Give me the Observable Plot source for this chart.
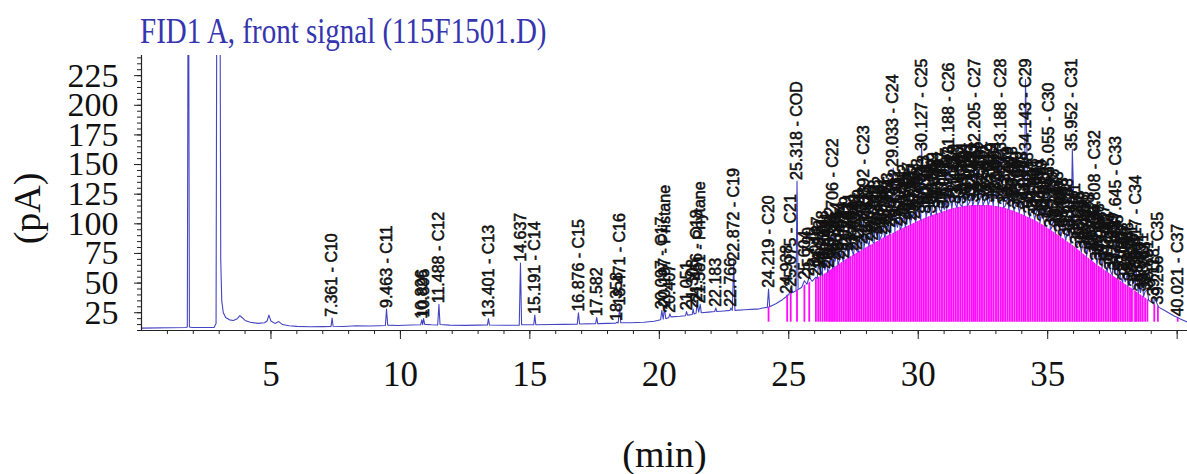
<!DOCTYPE html>
<html><head><meta charset="utf-8">
<script src="https://cdn.jsdelivr.net/npm/d3@7"></script>
<script src="https://cdn.jsdelivr.net/npm/@observablehq/plot@0.6"></script>
<style>
html,body{margin:0;padding:0;background:#fff;width:1187px;height:474px;overflow:hidden}
#title{height:50px;position:relative}
#title span{position:absolute;left:140px;top:9px;font:29px "Liberation Serif",serif;color:#3535b0;line-height:34px;white-space:nowrap;transform:scaleY(1.25);transform-origin:0 0}
#chart svg{display:block}
</style></head><body>
<div id="title"><span>FID1 A, front signal (115F1501.D)</span></div>
<div id="chart"></div>
<script>
// ---- data (minutes, pA) ----
const signalEarly = [
  [0,12],[1.70,12.5],[1.77,13],[1.81,420],[1.85,13],[1.95,12.5],[2.80,12.5],[2.88,16],[2.92,420],[3.02,420],
  [3.06,70],[3.10,35],[3.16,25],[3.25,21],[3.40,19],[3.55,18.5],[3.70,20],[3.80,22.5],[3.88,21],[4.00,18.5],
  [4.20,17],[4.50,16],[4.75,16.5],[4.85,18],[4.92,23],[5.00,18],[5.15,16],[5.30,17.5],[5.45,15],[5.70,14],
  [6.00,13.5],[6.50,13.2],[7.00,13.3],[7.32,13.5],[7.40,13.6],[7.80,13.4],[8.30,14],[8.80,13.8],[9.20,14],
  [9.42,14.2],[9.51,14.5],[9.90,14.2],[10.40,14.6],[10.78,14.8],[10.86,15],[10.94,15.2],[11.20,14.8],
  [11.44,14.6],[11.53,15],[11.90,14.5],[12.50,14.3],[13.00,14.5],[13.36,14.6],[13.44,14.6],[14.00,14.4],
  [14.59,14.5],[14.68,14.8],[15.15,14.8],[15.23,14.8],[15.80,15],[16.30,15.2],[16.83,15.4],[16.92,15.5],
  [17.54,15.8],[17.62,15.8],[18.00,16],[18.32,16.2],[18.41,16.4],[18.51,16.5],[18.90,16.6],[19.40,17],
  [19.80,17.8],[20.05,19],[20.15,19.5],[20.25,20],[20.37,21],[20.45,21.5],[20.80,22],[21.01,22.5],
  [21.09,23],[21.27,23.5],[21.34,24],[21.42,24.5],[21.52,25.5],[21.62,25],[21.90,25.5],[22.14,26],
  [22.22,26],[22.50,26.5],[22.73,27],[22.82,27],[22.92,27],[23.30,27.5],[23.70,28]
];
const humpEnvelope = [
  [23.8,28],[24.0,29],[24.17,29.5],[24.26,30],[24.5,32.5],[24.75,36],[24.9,38.5],[25.0,40],[25.15,42],
  [25.28,43.5],[25.36,44.5],[25.5,46.5],[25.7,49],[25.9,51.5],[26.1,54],[26.3,56.5],[26.5,59],[26.7,62],
  [26.9,65],[27.1,68],[27.3,71],[27.5,73.5],[27.7,76],[27.9,78.5],[28.1,81],[28.3,83.5],[28.5,86],
  [28.7,88.5],[28.9,90.5],[29.1,92.5],[29.3,95],[29.5,97],[29.7,99],[29.9,101],[30.1,103],[30.3,105],
  [30.5,106.5],[30.7,108],[30.9,109.5],[31.1,111],[31.3,112.5],[31.5,113.5],[31.7,114.5],[31.9,115],
  [32.1,115.5],[32.3,115.5],[32.5,115.5],[32.7,115.5],[32.9,115],[33.1,114.5],[33.3,113.5],[33.5,112],
  [33.7,110.5],[33.9,109],[34.1,107],[34.3,105],[34.5,103],[34.7,100.5],[34.9,98],[35.1,95],[35.3,92],
  [35.5,89],[35.7,86],[35.9,83],[36.1,79.5],[36.3,76],[36.5,72.5],[36.7,69],[36.9,65.5],[37.1,62.5],
  [37.3,59.5],[37.5,56.5],[37.7,53.5],[37.9,50.5],[38.1,47.5],[38.3,44.5],[38.5,41.5],[38.7,38.5],
  [38.9,35.5],[39.1,32.5],[39.3,29.5],[39.5,27],[39.7,24.5],[39.9,22],[40.1,20],[40.4,17]
];
// labelled peaks: retention time, apex (pA), compound
const namedPeaks = [
  [7.361,20.5,"C10"],[9.463,28,"C11"],[10.826,19,""],[10.895,20,""],[11.488,32,"C12"],[13.401,20,"C13"],
  [14.637,67,""],[15.191,23,"C14"],[16.876,25,"C15"],[17.582,21,""],[18.358,17,""],[18.471,30,"C16"],
  [20.097,27,"C17"],[20.197,29,"Pristane"],[20.407,24,""],[21.051,26,""],[21.308,28,""],[21.456,33,"C18"],
  [21.581,32,"Phytane"],[22.183,29,""],[22.766,29,""],[22.872,68,"C19"],[24.219,45,"C20"],[24.938,40,""],
  [25.075,46,"C21"],[25.318,136,"COD"],[25.604,52,""],[25.790,55,""],[26.706,93,"C22"],[27.892,104,"C23"],
  [29.033,147,"C24"],[30.127,168,"C25"],[31.188,157,"C26"],[32.205,163,"C27"],[33.188,163,"C28"],
  [34.143,222,"C29"],[35.055,140,"C30"],[35.952,163,"C31"],[36.808,100,"C32"],[37.645,95,"C33"],
  [38.417,62,"C34"],[39.256,31,"C35"],[40.021,21,"C37"]
];
// unresolved peaks riding on the hump: retention time, apex (pA)
const humpPeaks = [
  [26.048,55],[26.137,64],[26.219,61],[26.308,69],[26.394,61],[26.471,68],[26.558,62],[26.632,72],
  [26.781,68],[26.864,76],[26.951,69],[27.034,76],[27.122,70],[27.209,81],[27.293,76],[27.371,84],
  [27.462,76],[27.548,83],[27.633,77],[27.719,87],[27.804,82],[27.973,91],[28.061,84],[28.148,91],
  [28.232,85],[28.318,95],[28.407,90],[28.492,98],[28.579,90],[28.661,97],[28.748,91],[28.833,101],
  [28.924,96],[29.112,105],[29.193,97],[29.281,104],[29.364,98],[29.452,108],[29.541,102],[29.627,110],
  [29.713,102],[29.802,109],[29.886,103],[29.968,113],[30.051,108],[30.213,116],[30.298,108],[30.387,115],
  [30.476,108],[30.569,118],[30.658,113],[30.741,120],[30.829,112],[30.917,119],[31.008,112],[31.097,122],
  [31.272,117],[31.359,125],[31.447,116],[31.536,123],[31.628,116],[31.714,126],[31.803,120],[31.891,127],
  [31.979,118],[32.066,124],[32.141,117.5],[32.287,126.5],[32.379,120.5],[32.462,127.5],[32.551,118.5],
  [32.642,124.5],[32.731,117.5],[32.819,126],[32.906,120],[33.004,127],[33.092,117.5],[33.271,123],
  [33.358,115],[33.449,123],[33.537,117],[33.628,123],[33.718,113],[33.809,119],[33.897,111],[33.988,119],
  [34.072,112],[34.238,118],[34.327,108],[34.418,113],[34.509,105],[34.601,113],[34.688,106],[34.779,112],
  [34.868,101],[34.958,106],[35.139,96],[35.228,104],[35.317,97],[35.408,102],[35.497,92],[35.588,97],
  [35.679,88],[35.768,96],[35.857,89],[36.041,92],[36.129,82],[36.218,86],[36.309,78],[36.398,85],
  [36.487,78],[36.578,83],[36.668,73],[36.742,77],[36.889,68],[36.978,75],[37.068,68],[37.157,74],
  [37.248,63],[37.337,68],[37.428,60],[37.519,67],[37.583,60],[37.728,65],[37.818,55],[37.907,59],
  [37.997,51],[38.088,59],[38.179,51],[38.251,57],[38.378,46],[38.502,50],[38.583,42],[38.671,50],
  [38.763,43],[38.851,44],[39.118,38]
];
const xMajor = [5,10,15,20,25,30,35,40];
const xMinor = d3.range(1, 41, 1);
const yMajor = [25,50,75,100,125,150,175,200,225];
const yMinor = d3.range(10, 243, 5);
const xDomain = [0, 40.4];
const yDomain = [10, 242];
const integrationFloor = 17;
const integrationSpan = [26.35, 38.75];
const yTitle = {text: "(pA)", t: -4.4, v: 113};
const xTitle = "(min)";

// ---- build tables ----
const peaks = [
  ...namedPeaks.map(([t,a,n]) => ({t, a, n})),
  ...humpPeaks.map(([t,a]) => ({t, a, n: ""}))
].sort((p,q) => p.t - q.t);
const hump = humpEnvelope.map(([t,v]) => ({t, v}));
const signal = [
  ...signalEarly.map(([t,v]) => ({t, v})),
  ...hump,
  ...peaks.map(p => ({t: p.t, v: p.a}))
].sort((p,q) => p.t - q.t);
const pink = hump.filter(d => d.t >= integrationSpan[0] && d.t <= integrationSpan[1]);

const W = 1187, H = 424, mT = 5, mB = 144, mL = 141, mR = 0;
const pxPerUnit = (H - mT - mB) / (yDomain[1] - yDomain[0]);
const labelFamily = "'Liberation Sans Narrow', 'Liberation Sans', sans-serif";
const labelSize = 16;
const ctx = document.createElement("canvas").getContext("2d");
ctx.font = `${labelSize}px ${labelFamily}`;
const labelText = p => p.n ? `${p.t.toFixed(3)} - ${p.n}` : p.t.toFixed(3);
const labelY = p => Math.min(p.a + 1, yDomain[1] - (ctx.measureText(labelText(p)).width + 3) / pxPerUnit);

const serif = "Liberation Serif";
const chart = Plot.plot({
  width: W, height: H,
  marginTop: mT, marginBottom: mB, marginLeft: mL, marginRight: mR,
  x: {domain: xDomain},
  y: {domain: yDomain},
  style: {background: "#fff", color: "#111", overflow: "visible"},
  marks: [
    Plot.areaY(pink, {x: "t", y1: integrationFloor, y2: "v", fill: "#f6b0f2"}),
    Plot.ruleX(peaks.filter(p => p.t >= 24.2), {x: "t", y1: integrationFloor, y2: "a", stroke: "#ff0aff", strokeWidth: 1.8}),
    Plot.areaY(hump, {x: "t", y1: "v", y2: yDomain[1], fill: "#fff"}),
    Plot.line(signal, {x: "t", y: "v", stroke: "#4545c2", strokeWidth: 1.1, clip: true}),
    Plot.text(peaks, {x: "t", y: labelY, text: labelText, rotate: -90, textAnchor: "start", lineAnchor: "middle",
      fontSize: labelSize, fontFamily: labelFamily, fill: "#111", stroke: "#111", strokeWidth: 0.55}),
    Plot.axisY({ticks: yMinor, tickSize: 4, tickFormat: () => "", label: null, stroke: "#222"}),
    Plot.axisY({ticks: yMajor, tickSize: 7, tickPadding: 16, label: null, fontSize: 34, fontFamily: serif, stroke: "#222"}),
    Plot.axisX({ticks: xMinor, tickSize: 4, tickFormat: () => "", label: null, stroke: "#222"}),
    Plot.axisX({ticks: xMajor, tickSize: 9, tickPadding: 22, label: null, fontSize: 35, fontFamily: serif,
      tickFormat: d => d === 40 ? "" : d, stroke: "#222"}),
    Plot.ruleX([xDomain[0]], {stroke: "#222", strokeWidth: 1.2}),
    Plot.ruleY([yDomain[0]], {stroke: "#222", strokeWidth: 1.2}),
    Plot.text([yTitle], {x: "t", y: "v", text: "text", rotate: -90, fontSize: 38, fontFamily: serif, fill: "#111"}),
    Plot.text([xTitle], {frameAnchor: "bottom", dy: 136, fontSize: 38, fontFamily: serif, fill: "#111"})
  ]
});
document.getElementById("chart").appendChild(chart);
</script></body></html>
